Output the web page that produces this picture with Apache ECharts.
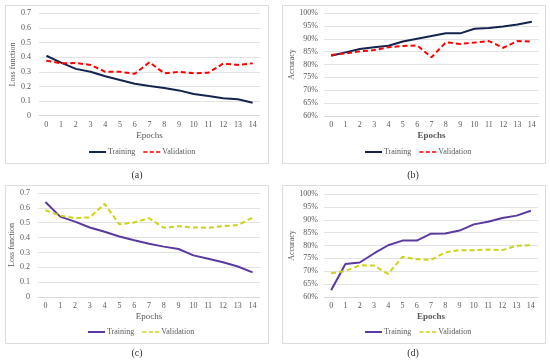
<!DOCTYPE html>
<html><head><meta charset="utf-8">
<script src="https://cdn.jsdelivr.net/npm/echarts@6/dist/echarts.min.js"></script>
<style>html,body{margin:0;padding:0;background:#fff}#c{width:550px;height:363px}</style>
</head><body><div id="c"></div>
<script>
var epochs = ['0','1','2','3','4','5','6','7','8','9','10','11','12','13','14'];
var lossTrainA = [0.41,0.363,0.32,0.30,0.27,0.244,0.219,0.203,0.19,0.173,0.148,0.135,0.12,0.112,0.089];
var lossValA   = [0.376,0.358,0.36,0.347,0.30,0.30,0.287,0.365,0.29,0.30,0.29,0.294,0.356,0.347,0.358];
var accTrainB  = [83.4,84.7,86.0,86.7,87.3,88.9,90.0,91.1,92.1,92.1,93.9,94.2,94.8,95.5,96.6];
var accValB    = [83.7,84.3,85.1,85.6,86.7,87.2,87.4,82.8,88.6,88.0,88.5,89.1,86.5,89.1,88.9];
var lossTrainC = [0.639,0.541,0.507,0.468,0.439,0.407,0.382,0.359,0.339,0.323,0.28,0.257,0.234,0.205,0.166];
var lossValC   = [0.584,0.548,0.532,0.536,0.627,0.489,0.502,0.53,0.466,0.477,0.468,0.466,0.477,0.484,0.534];
var accTrainD  = [62.6,72.8,73.4,76.9,80.1,81.9,81.9,84.6,84.7,85.8,88.2,89.2,90.7,91.6,93.5];
var accValD    = [69.2,70.1,72.3,72.2,69.0,75.6,74.7,74.4,77.3,78.2,78.2,78.4,78.2,79.9,80.1];
var panelLabels = ['(a)','(b)','(c)','(d)'];

var FONT = '"Liberation Serif","Times New Roman",serif';
var navy = '#14244f', red = '#ff0000', purple = '#5b3aa0', yellow = '#cbd417';
var ZW = '\u200b';

var grids = [
  {left:39, top:13.3, width:221, height:102.4},
  {left:324, top:13, width:215, height:103},
  {left:38, top:193, width:222, height:104},
  {left:324, top:194, width:214, height:103}
];
function xAx(i, bold){
  return {type:'category', gridIndex:i, data:epochs, boundaryGap:true,
    name:'Epochs', nameLocation:'middle', nameGap:15,
    nameTextStyle:{fontFamily:FONT, fontSize:9, color:'#595959', fontWeight: bold?'bold':'normal'},
    axisLine:{show:true, lineStyle:{color:'#d9d9d9'}}, axisTick:{show:false},
    axisLabel:{fontFamily:FONT, fontSize:8, color:'#595959', margin:5}};
}
function yLoss(i){
  return {type:'value', gridIndex:i, min:0, max:0.7, interval:0.1,
    name:'Loss function', nameLocation:'middle', nameGap:19,
    nameTextStyle:{fontFamily:FONT, fontSize:8, color:'#595959'},
    axisLine:{show:false}, axisTick:{show:false},
    axisLabel:{fontFamily:FONT, fontSize:8, color:'#595959', margin:8, formatter:function(v){return v===0?'0':v.toFixed(1);}},
    splitLine:{lineStyle:{color:'#e3e3e3'}}};
}
function yAcc(i){
  return {type:'value', gridIndex:i, min:60, max:100, interval:5,
    name:'Accuracy', nameLocation:'middle', nameGap:27,
    nameTextStyle:{fontFamily:FONT, fontSize:8, color:'#595959'},
    axisLine:{show:false}, axisTick:{show:false},
    axisLabel:{fontFamily:FONT, fontSize:8, color:'#595959', margin:6, formatter:'{value}%'},
    splitLine:{lineStyle:{color:'#e3e3e3'}}};
}
function ser(name, i, data, color, dashed){
  return {type:'line', name:name, xAxisIndex:i, yAxisIndex:i, data:data, symbol:'none',
    lineStyle:{color:color, width:2, type: dashed?[5,3]:'solid'}, itemStyle:{color:color}, silent:true, animation:false};
}
var DASH_ICON = 'path://M0,0h6v2h-6zM9,0h6v2h-6zM18,0h6v2h-6z';
function leg(suffix, left, top){
  return {left:left, top:top, padding:0, itemWidth:17, itemHeight:2, itemGap:8,
    textStyle:{fontFamily:FONT, fontSize:8, color:'#595959', padding:[0,0,0,-3]},
    formatter:function(n){return n.replace(/\u200b/g,'');},
    data:[{name:'Training'+suffix, icon:'rect'}, {name:'Validation'+suffix, icon:DASH_ICON}]};
}
var boxes = [[5,5],[282,5],[5,185],[282,185]];
var graphic = [];
boxes.forEach(function(b){
  graphic.push({type:'rect', shape:{x:b[0]+0.5, y:b[1]+0.5, width:263, height:158}, style:{fill:null, stroke:'#dcdcdc', lineWidth:1}, silent:true, z:-1});
});
var labPos = [[137,175],[413,175],[137,353],[413,353]];
panelLabels.forEach(function(t,k){
  graphic.push({type:'text', x:labPos[k][0], y:labPos[k][1], style:{text:t, font:'10px '+FONT, fill:'#333', textAlign:'center', textVerticalAlign:'middle'}, silent:true});
});

var option = {
  backgroundColor:'#fff',
  animation:false,
  grid: grids,
  xAxis:[xAx(0,false), xAx(1,true), xAx(2,false), xAx(3,true)],
  yAxis:[yLoss(0), yAcc(1), yLoss(2), yAcc(3)],
  legend:[
    leg('', 89, 148),
    leg(ZW, 365, 148),
    leg(ZW+ZW, 88, 328),
    leg(ZW+ZW+ZW, 365, 328)
  ],
  series:[
    ser('Training',0,lossTrainA,navy,false),
    ser('Validation',0,lossValA,red,true),
    ser('Training'+ZW,1,accTrainB,navy,false),
    ser('Validation'+ZW,1,accValB,red,true),
    ser('Training'+ZW+ZW,2,lossTrainC,purple,false),
    ser('Validation'+ZW+ZW,2,lossValC,yellow,true),
    ser('Training'+ZW+ZW+ZW,3,accTrainD,purple,false),
    ser('Validation'+ZW+ZW+ZW,3,accValD,yellow,true)
  ],
  graphic: graphic
};
var chart = echarts.init(document.getElementById('c'), null, {renderer:'canvas'});
chart.setOption(option);
</script>
</body></html>
